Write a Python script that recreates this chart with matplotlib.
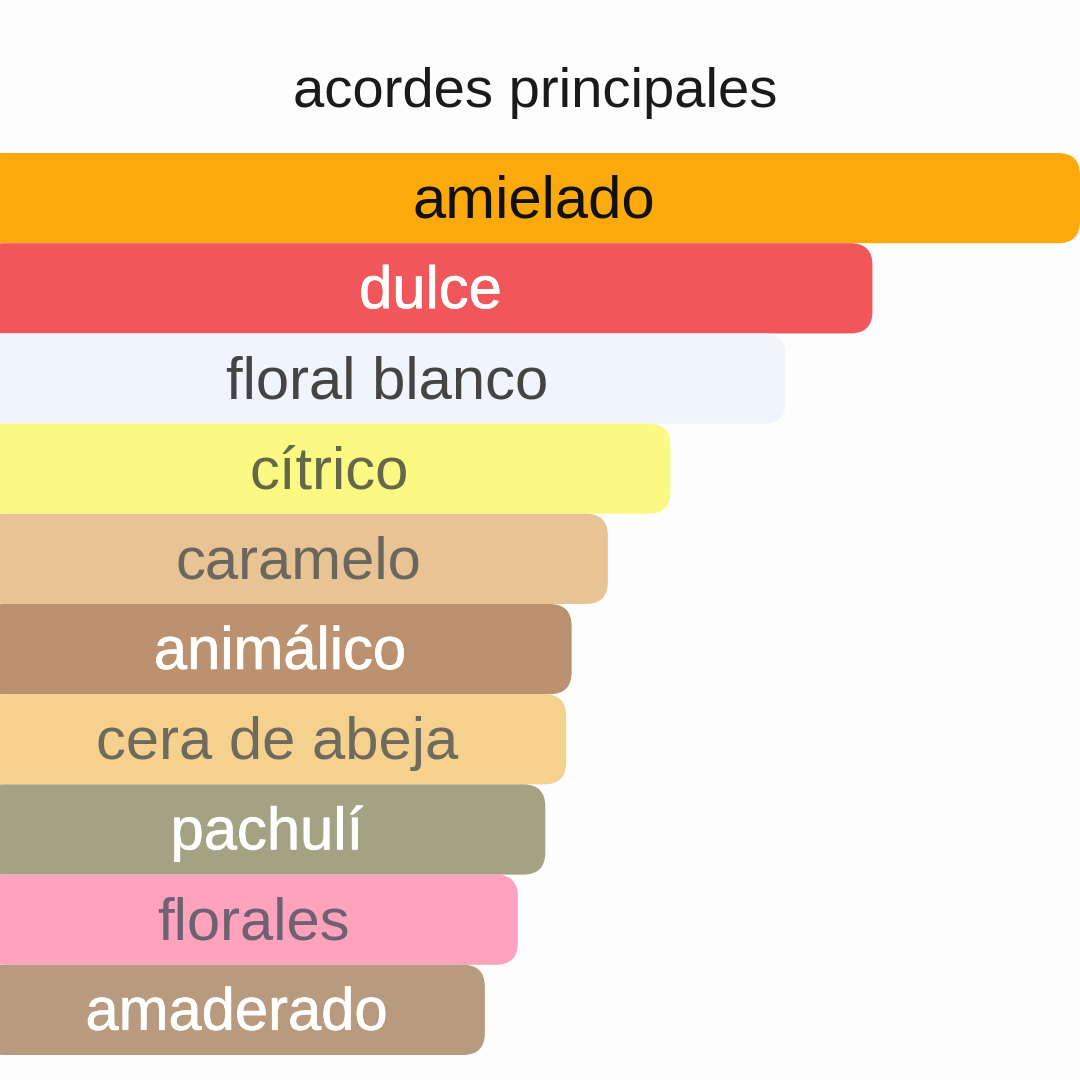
import numpy as np
import matplotlib
matplotlib.use('Agg')
import matplotlib.pyplot as plt
from matplotlib.patches import FancyBboxPatch
import matplotlib.patheffects as pe

plt.rcParams['font.family'] = ['Liberation Sans', 'DejaVu Sans']

# data (bar length, longest = 100)
accords = ['amielado', 'dulce', 'floral blanco', 'cítrico', 'caramelo',
           'animálico', 'cera de abeja', 'pachulí', 'florales', 'amaderado']
values = [100, 81.1, 73.2, 62.7, 57.0, 53.7, 53.2, 51.3, 48.8, 45.8]
bar_colors = ['#FBA90B', '#F1565B', '#F0F4FB', '#FAFA82', '#E8C393',
              '#BB916F', '#F6D18D', '#A3A384', '#FEA2BD', '#B89B7E']
text_colors = ['#111111', '#ffffff', '#444444', '#66664a', '#6b675f',
               '#ffffff', '#6e6a5e', '#ffffff', '#6e6270', '#ffffff']
title = 'acordes principales'

W = 1080
fig = plt.figure(figsize=(10.8, 10.8), dpi=100)
fig.patch.set_facecolor('#fdfdfd')

# bars start a bit left of the canvas, so only the right corners show
left_px = -18
top_px, bottom_px = 153, 1055
ax = fig.add_axes([left_px / W, 1 - bottom_px / W, 1 - left_px / W, (bottom_px - top_px) / W])
ax.set_xlim(0, 100)
ax.set_ylim(len(accords) - 0.5, -0.5)
ax.axis('off')

# corner radius in px converted to data units
px_x = 100 / (W - left_px)
px_y = len(accords) / (bottom_px - top_px)
r = 22 * px_x
aspect = px_y / px_x

for i, (name, v) in enumerate(zip(accords, values)):
    box = FancyBboxPatch((0, i - 0.5), v, 1.0,
                         boxstyle=f'round,pad=0,rounding_size={r}',
                         mutation_aspect=aspect,
                         facecolor=bar_colors[i], edgecolor='none', zorder=2 + i * 0.01)
    ax.add_patch(box)
    txt = ax.text(v / 2 + 0.3, i + 0.22, name, ha='center', va='baseline',
                  fontsize=43, color=text_colors[i], zorder=5)
    if text_colors[i] == '#ffffff':
        txt.set_path_effects([pe.withStroke(linewidth=0.5, foreground='#ffffff')])

fig.text(535.5 / W, 1 - 107 / W, title, ha='center', va='baseline',
         fontsize=40.5, color='#1a1a1a')

fig.savefig('out.png', dpi=100, facecolor=fig.get_facecolor())
